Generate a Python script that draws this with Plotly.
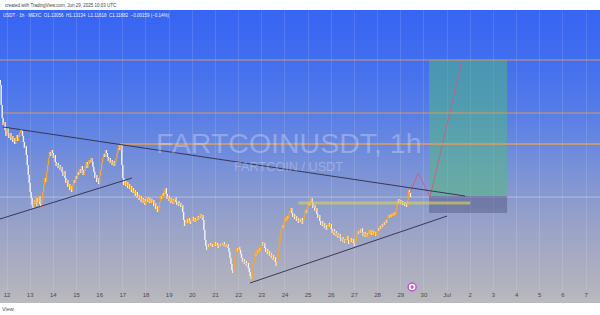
import plotly.graph_objects as go
import pandas as pd

# ---------------- data ----------------
CANDLE_START = "2025-06-11 17:00"
FIRST_OPEN = 1.4115
CLOSES = [
    1.399, 1.349, 1.3165, 1.299, 1.3065, 1.2865, 1.2715, 1.2915, 1.2765, 1.2665, 1.279, 1.2615, 1.2715, 1.2565, 1.2665, 1.2515, 1.264, 1.274, 1.259, 1.269, 1.279, 1.289, 1.284, 1.2715,
    1.2565, 1.2415, 1.2465, 1.224, 1.199, 1.174, 1.154, 1.1315, 1.1165, 1.099, 1.0915, 1.1115, 1.1015, 1.1165, 1.0965, 1.1065, 1.1215, 1.1015, 1.094, 1.1115, 1.1315, 1.149, 1.1665, 1.1565,
    1.1815, 1.199, 1.2165, 1.2315, 1.2215, 1.2365, 1.229, 1.2165, 1.224, 1.2065, 1.1965, 1.204, 1.1915, 1.199, 1.1865, 1.194, 1.1815, 1.1715, 1.184, 1.1665, 1.154, 1.1615, 1.144, 1.1515,
    1.1365, 1.1465, 1.1315, 1.149, 1.1615, 1.154, 1.1715, 1.164, 1.1815, 1.174, 1.189, 1.179, 1.1965, 1.1865, 1.174, 1.184, 1.1965, 1.2065, 1.1915, 1.2015, 1.2115, 1.204, 1.2165, 1.2065,
    1.194, 1.1815, 1.1665, 1.174, 1.1565, 1.1665, 1.1515, 1.1715, 1.1865, 1.204, 1.2165, 1.2265, 1.219, 1.2365, 1.229, 1.219, 1.209, 1.2165, 1.204, 1.2115, 1.199, 1.209, 1.1965, 1.2065,
    1.2165, 1.229, 1.2415, 1.249, 1.2365, 1.254, 1.199, 1.1665, 1.149, 1.1615, 1.1465, 1.1565, 1.1415, 1.1515, 1.139, 1.1465, 1.1315, 1.1415, 1.129, 1.1365, 1.1215, 1.1315, 1.1165, 1.124,
    1.1115, 1.1215, 1.1065, 1.1165, 1.104, 1.114, 1.099, 1.109, 1.119, 1.1065, 1.1165, 1.104, 1.114, 1.104, 1.1115, 1.0965, 1.104, 1.089, 1.0965, 1.0815, 1.0915, 1.1065, 1.1215, 1.114,
    1.129, 1.1215, 1.1365, 1.1415, 1.1265, 1.114, 1.1215, 1.109, 1.1165, 1.104, 1.114, 1.1015, 1.1115, 1.119, 1.1065, 1.099, 1.109, 1.0965, 1.104, 1.094, 1.099, 1.0815, 1.0615, 1.0465,
    1.0565, 1.064, 1.054, 1.0665, 1.059, 1.0515, 1.0615, 1.069, 1.059, 1.0665, 1.0565, 1.064, 1.0715, 1.0615, 1.069, 1.0765, 1.0665, 1.074, 1.0615, 1.0365, 1.0115, 0.9965, 0.9865, 1.0015,
    0.994, 1.004, 0.9965, 1.0015, 0.994, 0.999, 1.0065, 0.9965, 1.004, 0.999, 0.9915, 1.0015, 0.9965, 1.004, 0.999, 1.0065, 0.9965, 1.0015, 0.994, 1.0015, 0.9915, 0.9815, 0.9665, 0.9515,
    0.9365, 0.929, 0.9465, 0.9665, 0.9815, 0.9915, 0.984, 0.994, 0.9865, 0.9765, 0.9665, 0.9565, 0.964, 0.9515, 0.959, 0.9465, 0.954, 0.9415, 0.9315, 0.9215, 0.914, 0.9315, 0.9515, 0.9665,
    0.979, 0.9715, 0.9865, 0.979, 0.9915, 0.984, 0.9965, 1.0065, 0.9965, 1.004, 0.9915, 0.9815, 0.989, 0.9765, 0.984, 0.9715, 0.979, 0.9665, 0.974, 0.9615, 0.969, 0.9565, 0.9465, 0.9615,
    0.9815, 1.0015, 1.0215, 1.0365, 1.049, 1.0415, 1.0565, 1.0665, 1.059, 1.0715, 1.064, 1.0765, 1.084, 1.0915, 1.079, 1.069, 1.0765, 1.064, 1.0715, 1.059, 1.0665, 1.054, 1.064, 1.0565,
    1.0665, 1.0515, 1.0615, 1.074, 1.0865, 1.079, 1.094, 1.104, 1.0965, 1.109, 1.1165, 1.1065, 1.0915, 1.099, 1.084, 1.0915, 1.0765, 1.0665, 1.074, 1.059, 1.049, 1.059, 1.0465, 1.054,
    1.0415, 1.049, 1.0365, 1.044, 1.054, 1.044, 1.0515, 1.039, 1.029, 1.039, 1.024, 1.034, 1.0215, 1.029, 1.0165, 1.0265, 1.0165, 1.009, 1.019, 1.0065, 1.014, 1.004, 1.0115, 1.0215,
    1.0115, 1.0015, 1.009, 1.0165, 1.0065, 1.014, 1.004, 0.9965, 1.0065, 1.0215, 1.034, 1.0265, 1.039, 1.029, 1.0415, 1.0315, 1.0215, 1.0315, 1.019, 1.029, 1.019, 1.0265, 1.0365, 1.0265,
    1.0365, 1.024, 1.034, 1.024, 1.0315, 1.0215, 1.0315, 1.0415, 1.034, 1.0465, 1.039, 1.0515, 1.044, 1.0565, 1.049, 1.0615, 1.054, 1.0665, 1.074, 1.0665, 1.0765, 1.069, 1.079, 1.0715,
    1.0815, 1.074, 1.0865, 1.109, 1.114, 1.104, 1.1115, 1.1015, 1.109, 1.099, 1.1065, 1.0965, 1.104, 1.094, 1.1115, 1.1365, 1.1306, 1.1188,
]
LAST_CLOSE = 1.11882

DAY_TICKS = list(pd.date_range("2025-06-12", "2025-07-07", freq="D"))
DAY_LABELS = ["12", "13", "14", "15", "16", "17", "18", "19", "20", "21", "22", "23", "24",
              "25", "26", "27", "28", "29", "30", "Jul", "2", "3", "4", "5", "6", "7"]
X_RANGE = ["2025-06-11 16:45", "2025-07-07 14:24"]
Y_RANGE = [0.8865, 1.5865]

# drawings (time, price)
LEVEL_PRICES = [1.4615, 1.329, 1.2515]
LEVEL_STARTS = ["2025-06-11 16:45", "2025-06-11 20:00", "2025-06-16 22:00"]
RES_T = ["2025-06-11 19:50", "2025-07-01 18:40"]; RES_P = [1.294, 1.1215]
SUP1_T = ["2025-06-11 12:00", "2025-06-17 09:30"]; SUP1_P = [1.0605, 1.1665]
SUP2_T = ["2025-06-22 11:50", "2025-07-01 00:00"]; SUP2_P = [0.904, 1.0715]
YEL_T = ["2025-06-24 14:00", "2025-07-02 00:00"]; YEL_P = 1.104
ZIG_T = ["2025-06-29 09:40", "2025-06-29 18:00", "2025-06-30 06:20", "2025-07-01 15:30"]
ZIG_P = [1.129, 1.179, 1.119, 1.4615]
POS_T = ["2025-06-30 05:20", "2025-07-03 14:10"]
POS_TARGET, POS_ENTRY, POS_STOP = 1.4615, 1.1215, 1.079
EVENT_T = "2025-06-29 11:45"; EVENT_P = 0.894

# ---------------- build ----------------
times = pd.date_range(CANDLE_START, periods=len(CLOSES), freq="h")
opens = [FIRST_OPEN] + CLOSES[:-1]
up_x, up_y, dn_x, dn_y = [], [], [], []
for t, o, c in zip(times, opens, CLOSES):
    ts = t.strftime("%Y-%m-%d %H:%M")
    if c >= o:
        up_x += [ts, ts, None]; up_y += [o, c, None]
    else:
        dn_x += [ts, ts, None]; dn_y += [o, c, None]

fig = go.Figure()
fig.add_trace(go.Scatter(x=dn_x, y=dn_y, mode="lines", line=dict(color="#f6f6fa", width=1.4),
                         hoverinfo="skip", showlegend=False))
fig.add_trace(go.Scatter(x=up_x, y=up_y, mode="lines", line=dict(color="#f7a626", width=1.4),
                         hoverinfo="skip", showlegend=False))
fig.add_trace(go.Scatter(x=ZIG_T, y=ZIG_P, mode="lines", line=dict(color="rgba(225,80,125,0.8)", width=1),
                         hoverinfo="skip", showlegend=False))
fig.add_trace(go.Scatter(x=[EVENT_T], y=[EVENT_P], mode="markers", cliponaxis=False,
                         marker=dict(size=8, color="white", line=dict(color="#c453d6", width=1.5)),
                         hoverinfo="skip", showlegend=False))
fig.add_trace(go.Scatter(x=[EVENT_T], y=[EVENT_P], mode="markers", cliponaxis=False,
                         marker=dict(size=3, color="#c453d6", symbol="diamond"),
                         hoverinfo="skip", showlegend=False))

PLOT_TOP, PLOT_BOT = 10, 290
def pp(py):
    return (PLOT_BOT - py) / (PLOT_BOT - PLOT_TOP)

STOPS = [(10, (55, 100, 242)), (60, (66, 110, 240)), (110, (85, 124, 232)), (160, (115, 142, 218)),
         (210, (145, 158, 204)), (260, (168, 171, 194)), (290, (180, 180, 190)), (304, (186, 186, 190))]
def col_at(py):
    for (a, ca), (b, cb) in zip(STOPS[:-1], STOPS[1:]):
        if a <= py <= b:
            f = (py - a) / (b - a)
            return "rgb(%d,%d,%d)" % tuple(round(ca[k] + f * (cb[k] - ca[k])) for k in range(3))
    return "rgb(186,186,190)"

shapes = []
for py in range(10, 303, 2):
    shapes.append(dict(type="rect", xref="paper", yref="paper", x0=0, x1=1,
                       y0=pp(min(py + 2.6, 303)), y1=pp(py), fillcolor=col_at(py + 1),
                       line=dict(width=0), layer="below"))

# current price line
shapes.append(dict(type="line", xref="paper", yref="y", x0=0, x1=1, y0=LAST_CLOSE, y1=LAST_CLOSE,
                   line=dict(color="rgba(255,255,255,0.35)", width=1), layer="between"))
# position box
shapes.append(dict(type="rect", xref="x", yref="y", x0=POS_T[0], x1=POS_T[1], y0=POS_ENTRY, y1=POS_TARGET,
                   fillcolor="rgba(80,190,120,0.5)", line=dict(width=0), layer="between"))
shapes.append(dict(type="rect", xref="x", yref="y", x0=POS_T[0], x1=POS_T[1], y0=POS_STOP, y1=POS_ENTRY,
                   fillcolor="rgba(70,70,110,0.4)", line=dict(width=0), layer="between"))
# horizontal levels
lvl_styles = [dict(color="rgba(232,160,90,0.85)", width=1), dict(color="rgba(230,155,80,0.9)", width=1),
              dict(color="rgba(205,155,110,0.9)", width=2)]
for p, s, st in zip(LEVEL_PRICES, LEVEL_STARTS, lvl_styles):
    shapes.append(dict(type="line", xref="x", yref="y", x0=s, x1=X_RANGE[1], y0=p, y1=p, line=st))
# trendlines
for tt, pr in [(RES_T, RES_P), (SUP1_T, SUP1_P), (SUP2_T, SUP2_P)]:
    shapes.append(dict(type="line", xref="x", yref="y", x0=tt[0], x1=tt[1], y0=pr[0], y1=pr[1],
                       line=dict(color="rgba(45,45,75,0.9)", width=1)))
# yellow level
shapes.append(dict(type="line", xref="x", yref="y", x0=YEL_T[0], x1=YEL_T[1], y0=YEL_P, y1=YEL_P,
                   line=dict(color="rgba(215,205,95,0.65)", width=3)))

FONT = "Liberation Sans, Arial, sans-serif"
annotations = [
    dict(text="FARTCOINUSDT, 1h", xref="paper", yref="paper", x=288.5 / 600, y=pp(143),
         xanchor="center", yanchor="middle", showarrow=False,
         font=dict(family=FONT, size=28.5, color="rgba(255,255,255,0.28)")),
    dict(text="FARTCOIN / USDT", xref="paper", yref="paper", x=288 / 600, y=pp(167),
         xanchor="center", yanchor="middle", showarrow=False,
         font=dict(family=FONT, size=12.7, color="rgba(255,255,255,0.28)")),
    dict(text="created with TradingView.com, Jun 29, 2025 10:03 UTC", xref="paper", yref="paper",
         x=3 / 600, y=pp(5), xanchor="left", yanchor="middle", showarrow=False,
         font=dict(family=FONT, size=4.5, color="#444444")),
    dict(text="USDT · 1h · MEXC  O1.13056  H1.13134  L1.11618  C1.11882  −0.00159 (−0.14%)",
         xref="paper", yref="paper", x=1 / 600, y=pp(15), xanchor="left", yanchor="middle",
         showarrow=False, font=dict(family=FONT, size=4.5, color="#eef2ff")),
    dict(text="View", xref="paper", yref="paper", x=-0.5 / 600, y=pp(309), xanchor="left",
         yanchor="middle", showarrow=False, font=dict(family=FONT, size=5.5, color="#555555")),
]

fig.update_layout(
    width=600, height=315, margin=dict(l=0, r=0, t=10, b=25),
    paper_bgcolor="white", plot_bgcolor="rgba(0,0,0,0)",
    shapes=shapes, annotations=annotations, showlegend=False,
    xaxis=dict(type="date", range=X_RANGE, tickvals=DAY_TICKS, ticktext=DAY_LABELS,
               showgrid=True, gridcolor="rgba(255,255,255,0.12)", gridwidth=1,
               zeroline=False, showline=False, ticks="",
               tickfont=dict(family=FONT, size=6, color="#4a4a55")),
    yaxis=dict(range=Y_RANGE, visible=False),
)

fig.write_html("out.html")
